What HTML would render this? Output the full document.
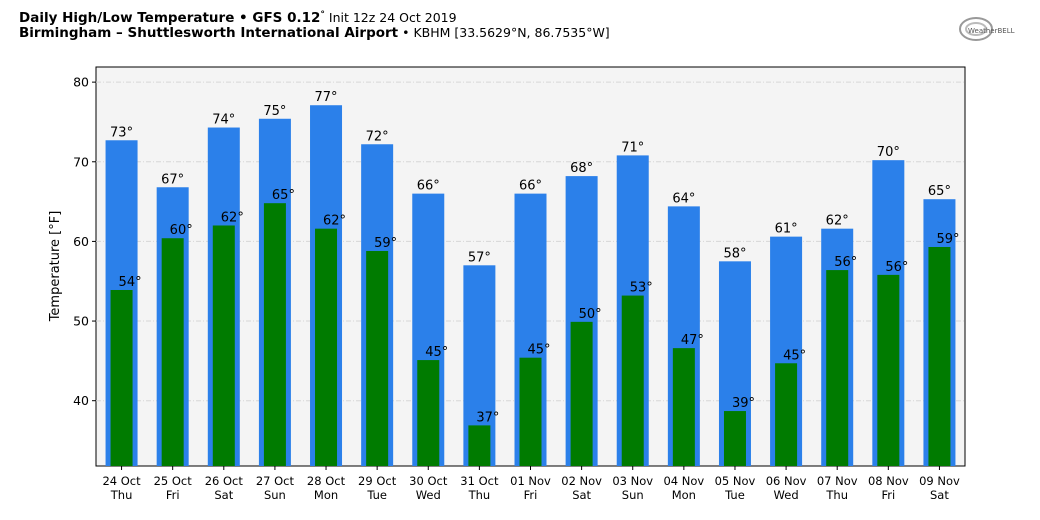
<!DOCTYPE html>
<html><head><meta charset="utf-8"><style>
body{margin:0;background:#fff;width:1040px;height:516px;overflow:hidden;font-family:"DejaVu Sans","Liberation Sans",sans-serif}
</style></head><body>
<svg width="1040" height="516" font-family="DejaVu Sans, Liberation Sans, sans-serif">
<text x="19" y="22" font-size="13.5" font-weight="bold">Daily High/Low Temperature • GFS 0.12<tspan font-size="9" dy="-5">°</tspan><tspan dy="5" font-weight="normal" font-size="12.5"> Init 12z 24 Oct 2019</tspan></text>
<text x="19" y="37" font-size="13.5" font-weight="bold">Birmingham – Shuttlesworth International Airport<tspan font-weight="normal" font-size="12.5"> • KBHM [33.5629°N, 86.7535°W]</tspan></text>
<g><ellipse cx="976" cy="29" rx="16" ry="11" fill="none" stroke="#999" stroke-width="2"/><ellipse cx="976" cy="29" rx="10" ry="6" fill="none" stroke="#bbb" stroke-width="2"/><text x="968" y="33" font-size="7" fill="#555">WeatherBELL</text></g>
<rect x="96" y="67" width="869" height="399" fill="#f4f4f4" stroke="#000" stroke-width="1"/>
<g id="grid"></g><g id="bars"></g><g id="axes"></g>
<text transform="translate(59,266) rotate(-90)" text-anchor="middle" font-size="13">Temperature [°F]</text>
</svg>
<script>
const dates=["24 Oct","25 Oct","26 Oct","27 Oct","28 Oct","29 Oct","30 Oct","31 Oct","01 Nov","02 Nov","03 Nov","04 Nov","05 Nov","06 Nov","07 Nov","08 Nov","09 Nov"];
const days=["Thu","Fri","Sat","Sun","Mon","Tue","Wed","Thu","Fri","Sat","Sun","Mon","Tue","Wed","Thu","Fri","Sat"];
const highs=[72.7,66.8,74.3,75.4,77.1,72.2,66.0,57.0,66.0,68.2,70.8,64.4,57.5,60.6,61.6,70.2,65.3];
const lows=[53.9,60.4,62.0,64.8,61.6,58.8,45.1,36.9,45.4,49.9,53.2,46.6,38.7,44.7,56.4,55.8,59.3];
const yTicks=[40,50,60,70,80];
const NS="http://www.w3.org/2000/svg";
const x0=96,x1=965,y0=466,y1=67,vmin=31.8,vmax=81.9;
const xs=i=>x0+(i+0.5)*(x1-x0)/dates.length;
const ys=v=>y0-(v-vmin)/(vmax-vmin)*(y0-y1);
function mk(t,a,p){const e=document.createElementNS(NS,t);for(const k in a)e.setAttribute(k,a[k]);p.appendChild(e);return e;}
const grid=document.getElementById('grid'),bars=document.getElementById('bars'),axes=document.getElementById('axes');
yTicks.forEach(v=>{
 const g=mk('line',{x1:x0,x2:x1,y1:ys(v),y2:ys(v),stroke:'#d6d6d6','stroke-dasharray':'5,2,1,2'},grid);
 
 
 mk('line',{x1:x0-4,x2:x0,y1:ys(v),y2:ys(v),stroke:'#000'},axes);
 const t=mk('text',{x:x0-7,y:ys(v)+4.5,'text-anchor':'end','font-size':'12.5'},axes);t.textContent=v;
 
 
});
dates.forEach((d,i)=>{
 const cx=xs(i);
 const hb=mk('rect',{x:cx-16,y:ys(highs[i]),width:32,height:y0-ys(highs[i]),fill:'#2b80ea'},bars);
 
 
 const lb=mk('rect',{x:cx-11,y:ys(lows[i]),width:22,height:y0-ys(lows[i]),fill:'#007b00'},bars);
 
 
 const ht=mk('text',{x:cx,y:ys(highs[i])-4,'text-anchor':'middle','font-size':'13'},bars);ht.textContent=Math.round(highs[i])+'°';
 
 
 const lt=mk('text',{x:cx-3,y:ys(lows[i])-4,'font-size':'13'},bars);lt.textContent=Math.round(lows[i])+'°';
 
 
 mk('line',{x1:cx,x2:cx,y1:y0,y2:y0+4,stroke:'#000'},axes);
 const xt=mk('text',{x:cx,y:485,'text-anchor':'middle','font-size':'11.5'},axes);
 
 
 const a=mk('tspan',{x:cx},xt);a.textContent=d;
 const b=mk('tspan',{x:cx,dy:14},xt);b.textContent=days[i];
});
</script>
</body></html>
